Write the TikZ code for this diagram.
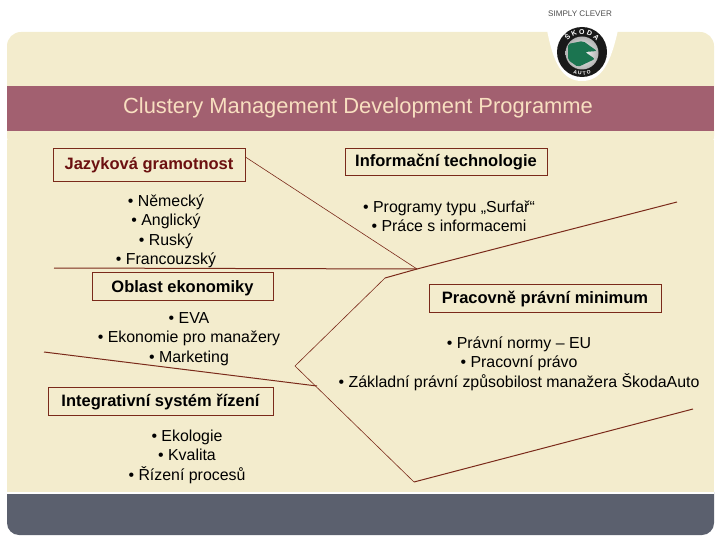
\documentclass[tikz,border=0pt]{standalone}
\usepackage{fontspec}
\setmainfont{Liberation Sans}
\usetikzlibrary{positioning,decorations.text}
\definecolor{panelcream}{HTML}{F3ECCD}
\definecolor{barrose}{HTML}{A26070}
\definecolor{bargrey}{HTML}{5B606E}
\definecolor{titletext}{HTML}{F8DFC0}
\definecolor{linered}{HTML}{7A2A1A}
\definecolor{headred}{HTML}{6B1010}
\definecolor{logogreen}{HTML}{1B7450}

\begin{document}
\begin{tikzpicture}[
    x=1pt, y=-1pt,
    node distance=10pt and 100pt,
    headbox/.style={rectangle, draw=linered, line width=0.8pt, fill=panelcream, minimum height=28pt, inner sep=0pt, text height=12pt, text depth=1pt, font=\fontsize{16.5}{19}\selectfont\bfseries},
    bullets/.style={align=center, inner sep=0pt, font=\fontsize{15.9}{19.5}\selectfont},
    heavy/.style={draw=linered, line width=1pt},
    light/.style={draw=linered, line width=0.6pt}
]
    \useasboundingbox (0,0) rectangle (720,540);

    % slide background
    \fill[panelcream, rounded corners=14pt] (7,150) -- (7,32) -- (714,32) -- (714,150) -- cycle;
    \fill[panelcream] (7,140) rectangle (714,492);
    \fill[barrose] (7,86) rectangle (714,131);
    \fill[bargrey, rounded corners=12pt] (7,480) -- (7,535) -- (714,535) -- (714,480) -- cycle;
    \fill[white] (7,478) rectangle (714,494);
    \fill[panelcream] (7,478) rectangle (714,492);

    % logo
    \fill[white] (547,30) .. controls (553,62) and (562,81) .. (582,81) .. controls (602,81) and (611,62) .. (618,30) -- cycle;
    \node[font=\fontsize{8.1}{10}\selectfont, text=black!70] (slogan) at (580,14) {SIMPLY CLEVER};
    \fill[black!90] (582,52) circle[radius=25pt];
    \shade[inner color=white, outer color=black!30] (582,53) circle[radius=16.5pt];
    \fill[logogreen, rounded corners=2pt] (568,44) -- (583,41) -- (597,51) -- (585,52) -- (595,59) -- (578,67) -- (568,60) -- cycle;
    \path[postaction={decorate, decoration={text along path, text align=center, text={|\fontsize{7}{7}\selectfont\bfseries\color{white}|Š K O D A}}}] (582,52) ++(175:18pt) arc[start angle=175, end angle=5, radius=18pt];
    \path[postaction={decorate, decoration={text along path, text align=center, text={|\fontsize{5}{5}\selectfont\bfseries\color{white}|A U T O}}}] (582,52) ++(225:23pt) arc[start angle=225, end angle=315, radius=23pt];

    \node[text=titletext, font=\fontsize{21.9}{26}\selectfont] (title) at (358,108) {Clustery Management Development Programme};

    % connectors
    \coordinate (hub) at (417,269);
    \coordinate (ruleleft) at (54,268);
    \coordinate (econleft) at (44,352);
    \coordinate (econright) at (317,386);
    \coordinate (upperend) at (677,202);
    \coordinate (knee) at (385,278);
    \coordinate (tip) at (295,366);
    \coordinate (lowest) at (414,482);
    \coordinate (lowerend) at (693,409);

    % headings
    \node[headbox, minimum width=192pt, minimum height=33pt, text=headred] (jazyk) at (149,164.5) {Jazyková gramotnost};
    \node[headbox, minimum width=202pt, minimum height=27pt] (inform) at (446,161.5) {Informační technologie};
    \node[headbox, minimum width=181pt] (oblast) at (182.5,286.5) {Oblast ekonomiky};
    \node[headbox, minimum width=225pt] (integr) at (160.5,401) {Integrativní systém řízení};
    \node[headbox, minimum width=232pt] (pracov) at (545,298) {Pracovně právní minimum};

    % lists
    \node[bullets, below=13pt of jazyk.south, xshift=17pt] (jazyklist) {• Německý\\• Anglický\\• Ruský\\• Francouzský};
    \node[bullets, below=25pt of inform.south, xshift=3pt] (informlist) {• Programy typu „Surfař“\\• Práce s informacemi};
    \node[bullets, below=11pt of oblast.south, xshift=6.5pt] (oblastlist) {• EVA\\• Ekonomie pro manažery\\• Marketing};
    \node[bullets, below=14pt of integr.south, xshift=26.5pt] (integrlist) {• Ekologie\\• Kvalita\\• Řízení procesů};
    \node[bullets, below=24pt of pracov.south, xshift=-26pt] (pracovlist) {• Právní normy – EU\\• Pracovní právo\\• Základní právní způsobilost manažera ŠkodaAuto};

    \draw[light] ([yshift=7.5pt]jazyk.east) -- (hub);
    \draw[heavy] (ruleleft) -- (hub);
    \draw[heavy] (econleft) -- (econright);
    \draw[heavy] (upperend) -- (hub) -- (knee);
    \draw[light] (knee) -- (tip) -- (lowest);
    \draw[heavy] (lowest) -- (lowerend);
\end{tikzpicture}
\end{document}
